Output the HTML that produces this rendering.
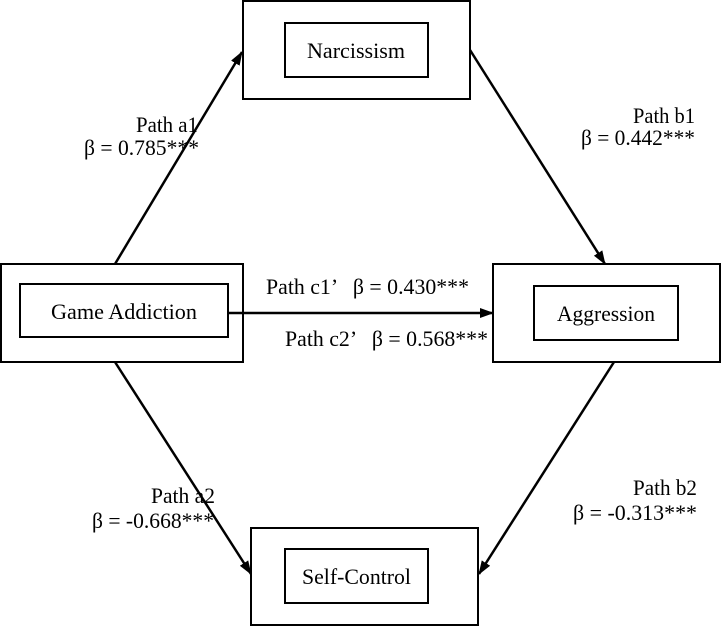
<!DOCTYPE html>
<html><head><meta charset="utf-8"><style>
html,body{margin:0;padding:0;background:#fff;}
svg{display:block;}
text{font-family:"Liberation Serif",serif;font-size:22px;fill:#000;}
</style></head><body>
<svg width="721" height="626" viewBox="0 0 721 626" xmlns="http://www.w3.org/2000/svg">
<defs>
<marker id="ah" markerWidth="14" markerHeight="10" refX="13" refY="5" orient="auto" markerUnits="userSpaceOnUse">
<path d="M0,0 L14,5 L0,10 Z" fill="#000"/>
</marker>
</defs>
<g fill="none" stroke="#000" stroke-width="2">
<rect x="243" y="1" width="227" height="98"/>
<rect x="285" y="23" width="143" height="54"/>
<rect x="1" y="264" width="242" height="98"/>
<rect x="20" y="284" width="208" height="53"/>
<rect x="493" y="264" width="227" height="98"/>
<rect x="534" y="286" width="144" height="54"/>
<rect x="251" y="528" width="227" height="97"/>
<rect x="285" y="549" width="143" height="54"/>
<line x1="115" y1="264" x2="242" y2="52" marker-end="url(#ah)" stroke-width="2.5"/>
<line x1="470" y1="50" x2="605" y2="264" marker-end="url(#ah)" stroke-width="2.5"/>
<line x1="228" y1="313" x2="493" y2="313" marker-end="url(#ah)" stroke-width="2.5"/>
<line x1="115" y1="362" x2="251" y2="574" marker-end="url(#ah)" stroke-width="2.5"/>
<line x1="614" y1="362" x2="479" y2="574" marker-end="url(#ah)" stroke-width="2.5"/>
</g>
<text x="307" y="58" textLength="98" lengthAdjust="spacingAndGlyphs">Narcissism</text>
<text x="51" y="319" textLength="146" lengthAdjust="spacingAndGlyphs">Game Addiction</text>
<text x="557" y="321" textLength="98" lengthAdjust="spacingAndGlyphs">Aggression</text>
<text x="302" y="584" textLength="109" lengthAdjust="spacingAndGlyphs">Self-Control</text>
<text x="136" y="132" textLength="62" lengthAdjust="spacingAndGlyphs">Path a1</text>
<text x="84" y="155" textLength="115" lengthAdjust="spacingAndGlyphs">β = 0.785***</text>
<text x="633" y="123" textLength="62" lengthAdjust="spacingAndGlyphs">Path b1</text>
<text x="581" y="145" textLength="114" lengthAdjust="spacingAndGlyphs">β = 0.442***</text>
<text x="266" y="294" textLength="203" lengthAdjust="spacingAndGlyphs" xml:space="preserve">Path c1’   β = 0.430***</text>
<text x="285" y="346" textLength="203" lengthAdjust="spacingAndGlyphs" xml:space="preserve">Path c2’   β = 0.568***</text>
<text x="151" y="503" textLength="64" lengthAdjust="spacingAndGlyphs">Path a2</text>
<text x="92" y="528" textLength="122" lengthAdjust="spacingAndGlyphs">β = -0.668***</text>
<text x="633" y="495" textLength="64" lengthAdjust="spacingAndGlyphs">Path b2</text>
<text x="573" y="520" textLength="124" lengthAdjust="spacingAndGlyphs">β = -0.313***</text>
</svg>
</body></html>
